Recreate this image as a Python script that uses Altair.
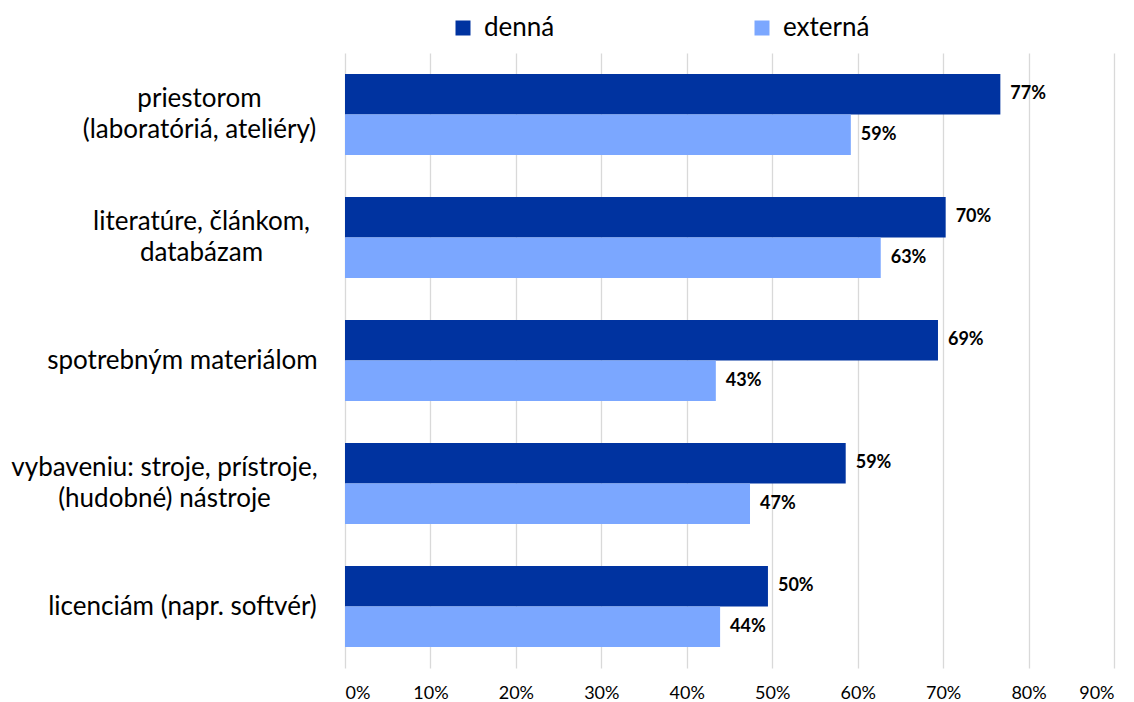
import altair as alt
import pandas as pd

categories = [
    "priestorom|(laboratóriá, ateliéry)",
    "literatúre, článkom,|databázam",
    "spotrebným materiálom",
    "vybaveniu: stroje, prístroje,|(hudobné) nástroje",
    "licenciám (napr. softvér)",
]
series = ["denná", "externá"]
denna = [0.767, 0.703, 0.694, 0.586, 0.495]
externa = [0.592, 0.627, 0.434, 0.474, 0.439]
colors = ["#0033A0", "#7BA7FF"]

rows = []
for c, d, e in zip(categories, denna, externa):
    rows.append({"cat": c, "typ": "denná", "val": d, "lab": f"{round(d*100)}%"})
    rows.append({"cat": c, "typ": "externá", "val": e, "lab": f"{round(e*100)}%"})
df = pd.DataFrame(rows)

FONT = "Lato"

pad_cond = {
    "condition": [
        {"test": "indexof(datum.label,'priestorom')>=0", "value": 146},
        {"test": "indexof(datum.label,'literat')>=0", "value": 144},
        {"test": "indexof(datum.label,'vybaveniu')>=0", "value": 181},
    ],
    "value": 163,
}
off_cond = {
    "condition": {"test": "indexof(datum.label,'|')>=0", "value": -15.5},
    "value": 0,
}

y = alt.Y("cat:N", sort=categories,
          scale=alt.Scale(paddingInner=0.34, paddingOuter=0.17),
          axis=alt.Axis(title=None, labelExpr="split(datum.label, '|')",
                        labelFontSize=26, labelLineHeight=31, labelColor="#000000",
                        labelFont=FONT, labelPadding=pad_cond, labelOffset=off_cond,
                        ticks=False, domain=False,
                        labelLimit=400, labelAlign="center"))
x = alt.X("val:Q", scale=alt.Scale(domain=[0, 0.9], nice=False),
          axis=alt.Axis(title=None, format=".0%", values=[i/10 for i in range(10)],
                        labelFontSize=18, labelFont=FONT, labelColor="#000000",
                        labelPadding=16, ticks=False, domain=False,
                        grid=True, gridColor="#D9D9D9", gridWidth=1.3))
yoff = alt.YOffset("typ:N", sort=series, scale=alt.Scale(paddingInner=0, paddingOuter=0))

bars = alt.Chart(df).mark_bar(stroke=None).encode(
    x=x, y=y, yOffset=yoff,
    color=alt.Color("typ:N", sort=series, scale=alt.Scale(domain=series, range=colors),
                    legend=alt.Legend(title=None, orient="none", direction="horizontal",
                                      legendX=105, legendY=-38,
                                      symbolType="square", symbolSize=225,
                                      symbolStrokeWidth=0,
                                      labelFontSize=26, labelFont=FONT,
                                      labelColor="#000000", columnPadding=194,
                                      symbolOffset=0, labelOffset=8)),
)
text = alt.Chart(df).mark_text(align="left", baseline="middle", dx=10,
                               fontSize=18, fontWeight="bold", font=FONT,
                               color="#000000").encode(
    x="val:Q", y=alt.Y("cat:N", sort=categories), yOffset=yoff, text="lab:N")

chart = (bars + text).properties(
    width=769, height=615,
    padding={"top": 7, "left": 2, "right": 10, "bottom": 0},
).configure(background="white").configure_view(stroke=None)

chart.save("out.html", embed_options={"renderer": "svg", "actions": False})
